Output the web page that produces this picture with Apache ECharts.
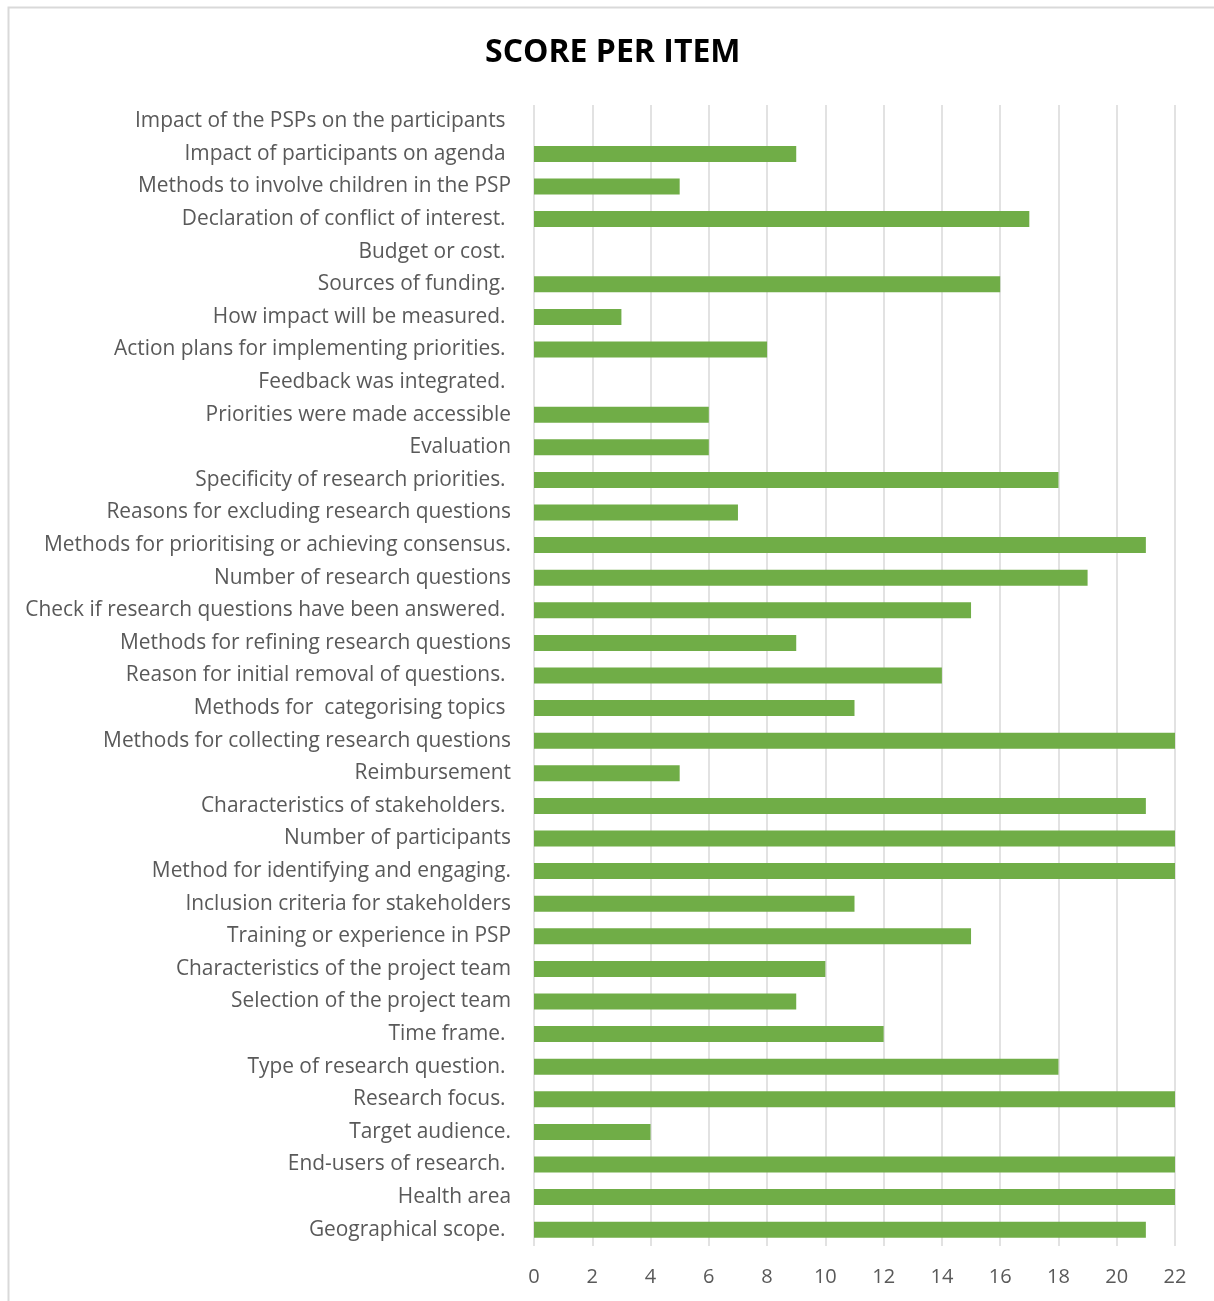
<!DOCTYPE html>
<html>
<head>
<meta charset="utf-8">
<script src="https://cdn.jsdelivr.net/npm/echarts@6/dist/echarts.min.js"></script>
<style>
  html, body { margin: 0; padding: 0; background: #ffffff; }
  #chart { width: 1214px; height: 1301px; }
</style>
</head>
<body>
<div id="chart"></div>
<script>
// Checklist items, listed top to bottom (trailing spaces kept as written)
const items = [
  'Impact of the PSPs on the participants ',
  'Impact of participants on agenda ',
  'Methods to involve children in the PSP',
  'Declaration of conflict of interest. ',
  'Budget or cost. ',
  'Sources of funding. ',
  'How impact will be measured. ',
  'Action plans for implementing priorities. ',
  'Feedback was integrated. ',
  'Priorities were made accessible',
  'Evaluation',
  'Specificity of research priorities. ',
  'Reasons for excluding research questions',
  'Methods for prioritising or achieving consensus.',
  'Number of research questions',
  'Check if research questions have been answered. ',
  'Methods for refining research questions',
  'Reason for initial removal of questions. ',
  'Methods for  categorising topics ',
  'Methods for collecting research questions',
  'Reimbursement',
  'Characteristics of stakeholders. ',
  'Number of participants',
  'Method for identifying and engaging.',
  'Inclusion criteria for stakeholders',
  'Training or experience in PSP',
  'Characteristics of the project team',
  'Selection of the project team',
  'Time frame. ',
  'Type of research question. ',
  'Research focus. ',
  'Target audience.',
  'End-users of research. ',
  'Health area',
  'Geographical scope. '
];

// Score for each item, same order as above
const scores = [
  0, 9, 5, 17, 0, 16, 3, 8, 0, 6,
  6, 18, 7, 21, 19, 15, 9, 14, 11, 22,
  5, 21, 22, 22, 11, 15, 10, 9, 12, 18,
  22, 4, 22, 22, 21
];

const chartTitle = 'SCORE PER ITEM';
const scoreMax = 22;
const scoreStep = 2;

const chart = echarts.init(document.getElementById('chart'), null, { renderer: 'canvas' });

chart.setOption({
  backgroundColor: '#ffffff',
  animation: false,
  // light frame around the chart area
  graphic: [{
    type: 'rect',
    left: 6,
    top: 5,
    shape: { width: 1240, height: 1330 },
    style: { fill: 'none', stroke: '#d9d9d9', lineWidth: 2 },
    silent: true,
    z: -1
  }],
  title: {
    text: chartTitle,
    left: 480,
    top: 32,
    textStyle: {
      fontFamily: 'Open Sans',
      fontWeight: 'bold',
      fontSize: 32,
      color: '#000000'
    }
  },
  grid: {
    left: 534,
    right: 39,
    top: 105,
    bottom: 55,
    containLabel: false
  },
  xAxis: {
    type: 'value',
    min: 0,
    max: scoreMax,
    interval: scoreStep,
    axisLine: { show: false },
    axisTick: { show: false },
    axisLabel: {
      color: '#595959',
      fontFamily: 'Open Sans',
      fontSize: 20,
      margin: 21
    },
    splitLine: { show: true, lineStyle: { color: '#d9d9d9', width: 1.5 } }
  },
  yAxis: {
    type: 'category',
    data: items,
    inverse: true,
    axisLine: { show: false },
    axisTick: { show: false },
    axisLabel: {
      color: '#595959',
      fontFamily: 'Open Sans',
      fontSize: 20.9,
      margin: 23,
      interval: 0
    }
  },
  series: [{
    type: 'bar',
    data: scores,
    barWidth: 16,
    itemStyle: { color: '#70ad47' }
  }]
});
</script>
</body>
</html>
